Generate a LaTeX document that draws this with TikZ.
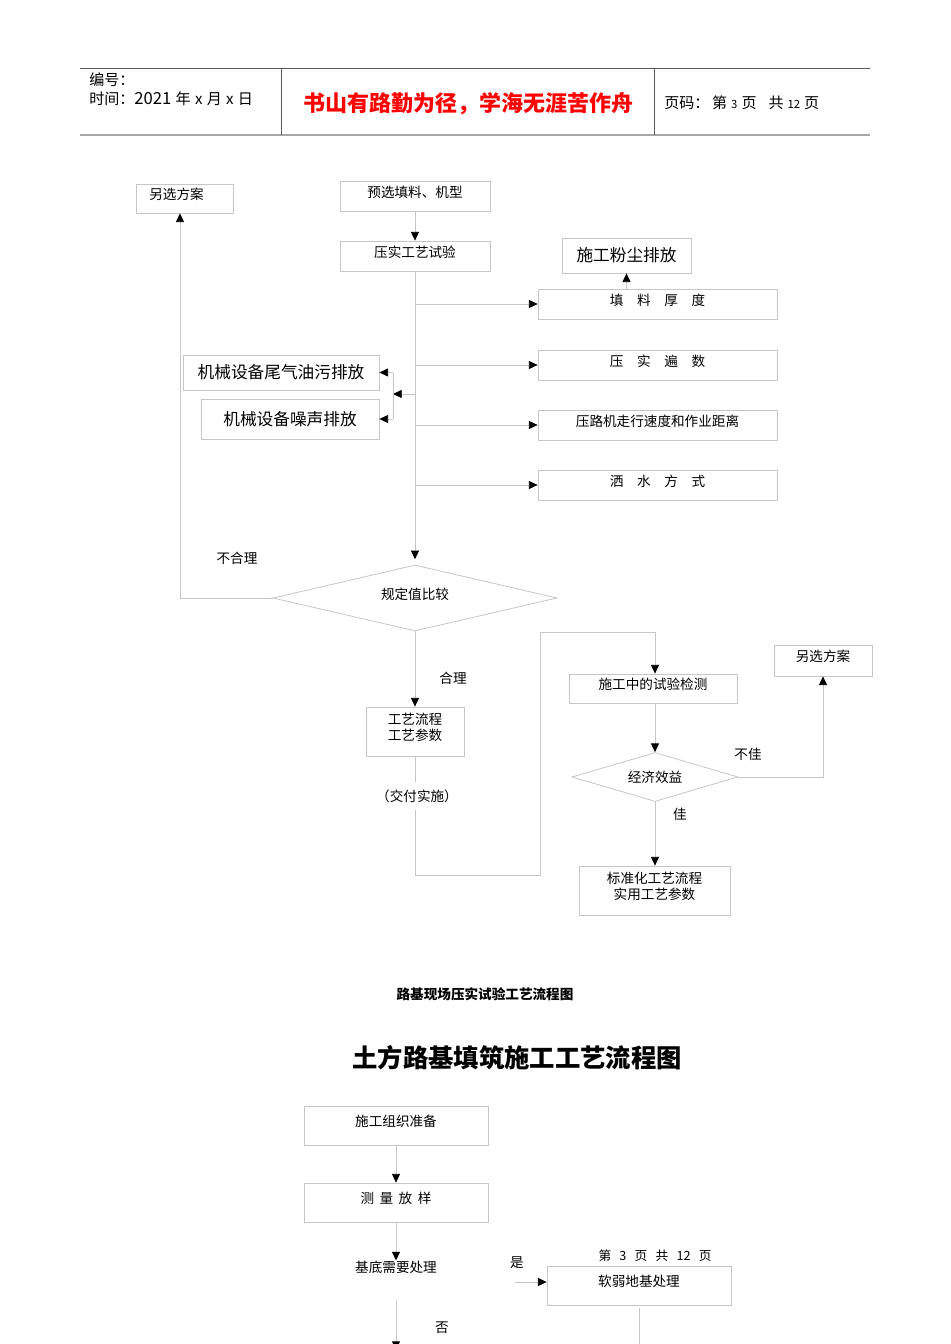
\documentclass[tikz,border=0pt]{standalone}
\usepackage{fontspec}
\newfontfamily\cjk{Noto Sans CJK SC}
\usepackage{tikz}
\usetikzlibrary{arrows.meta, positioning, shapes.geometric}

\begin{document}
\begin{tikzpicture}[
  x=0.75pt, y=-0.75pt,
  font=\cjk\fontsize{10.2}{12.5}\selectfont,
  frame/.style 2 args={draw=gray!45, line width=0.6pt, minimum width=#1*0.75pt, minimum height=#2*0.75pt, inner sep=0pt, align=center},
  lift/.style={execute at end node={\rule[-7pt]{0pt}{0pt}}},
  box/.style 2 args={frame={#1}{#2}, lift},
  bigbox/.style 2 args={frame={#1}{#2}, font=\cjk\fontsize{12.5}{15}\selectfont},
  dia/.style 2 args={draw=gray!45, line width=0.6pt, diamond, aspect=4, inner sep=0pt, minimum width=#1*0.75pt, minimum height=#2*0.75pt},
  ln/.style={draw=gray!45, line width=0.6pt},
  arr/.style={ln, -{Triangle[width=6pt, length=6.5pt, color=black]}},
  head/.style={inner sep=0pt, anchor=west, font=\cjk\fontsize{11.3}{13}\selectfont},
  lbl/.style={inner sep=0pt}
]
  \useasboundingbox (0,0) rectangle (950,1344);

  % header
  \draw[gray!70!black, line width=0.6pt] (80,68) -- (870,68);
  \draw[gray!70, line width=1.5pt] (80,135) -- (870,135);
  \draw[gray!70!black, line width=0.6pt] (281,68) -- (281,135) (654,68) -- (654,135);
  \node[head] (num) at (89,80) {编号：};
  \node[head] (date) at (89,99) {时间：{\fontsize{12.5}{13}\selectfont 2021}\hspace{3.2pt}年\hspace{3.2pt}x\hspace{3.2pt}月\hspace{3.2pt}x\hspace{3.2pt}日};
  \node[lbl, text=red, font=\cjk\bfseries\fontsize{16.5}{20}\selectfont] (motto) at (468,104) {书山有路勤为径，学海无涯苦作舟};
  \node[head] (page) at (664,103) {页码：\hspace{2pt}第\hspace{3pt}{\fontsize{8.5}{9}\selectfont 3}\hspace{3pt}页\hspace{9pt}共\hspace{3pt}{\fontsize{8.5}{9}\selectfont 12}\hspace{3pt}页};

  % compaction test
  \node[box={97}{29}] (alt1) at (184.5,198.5) {另选方案\hspace{12pt}};
  \node[box={150}{30}] (pre) at (415,196) {预选填料、机型};
  \node[box={150}{30}] (trial) at (415,256) {压实工艺试验};
  \node[bigbox={129}{35}] (dust) at (626.5,255.5) {施工粉尘排放};
  \node[box={239}{30}] (thick) at (657.5,304) {填　料　厚　度};
  \node[box={239}{30}] (passes) at (657.5,365) {压　实　遍　数};
  \node[box={239}{30}] (speed) at (657.5,425) {压路机走行速度和作业距离};
  \node[box={239}{30}] (water) at (657.5,485) {洒　水　方　式};
  \node[bigbox={196}{35}] (exh) at (281,372.5) {机械设备尾气油污排放};
  \node[bigbox={178}{40}] (noise) at (290,419) {机械设备噪声排放};
  \node[dia={284}{66}, lift] (cmp) at (415,598) {规定值比较};
  \node[box={98}{49}] (proc) at (415,731.5) {工艺流程\\工艺参数};
  \node[box={168}{29}] (test) at (653,688.5) {施工中的试验检测};
  \node[dia={166}{49}] (eco) at (655,777) {经济效益};
  \node[box={98}{31}] (alt2) at (823,660.5) {另选方案};
  \node[box={151}{49}] (std) at (654.5,890.5) {标准化工艺流程\\实用工艺参数};
  \coordinate (br) at (393,394);
  \coordinate (c1) at (540,875);
  \coordinate (c2) at (540,632);

  \draw[arr] (pre) -- (trial);
  \draw[arr] (trial.south) -- ([yshift=4pt]cmp.north);
  \foreach \b in {thick,passes,speed,water} \draw[arr] (trial.south |- \b.west) -- (\b.west);
  \draw[arr] (dust.south |- thick.north) -- (dust.south);
  \draw[arr] (trial.south |- br) -- (br);
  \draw[ln] (br |- exh.east) -- (br |- noise.east);
  \foreach \b in {exh,noise} \draw[arr] (br |- \b.east) -- (\b.east);
  \draw[arr] (cmp.west) -| ([xshift=-3.4pt]alt1.south);
  \draw[arr] (cmp.south) -- (proc.north);
  \draw[arr] (proc.south) |- (c1) -- (c2) -| (eco.north |- test.north);
  \draw[arr] (eco.north |- test.south) -- (eco.north);
  \draw[arr] (eco.east) -| (alt2.south);
  \draw[arr] (eco.south) -- (eco.south |- std.north);

  \node[lbl] (bad) at (237,558) {不合理};
  \node[lbl] (good) at (453,678) {合理};
  \node[lbl, fill=white, inner ysep=6pt] (deliver) at (417,796) {（交付实施）};
  \node[lbl] (poor) at (748,754) {不佳};
  \node[lbl] (fine) at (680,814) {佳};
  \node[lbl, font=\cjk\bfseries\fontsize{10.2}{12}\selectfont] (cap) at (485,994) {路基现场压实试验工艺流程图};

  % earthwork fill
  \node[lbl, font=\cjk\bfseries\fontsize{19}{22}\selectfont] (title) at (517,1058) {土方路基填筑施工工艺流程图};
  \node[box={184}{39}] (prep) at (396,1125.5) {施工组织准备};
  \node[box={184}{39}] (survey) at (396,1202.5) {测\hspace{.4em}量\hspace{.4em}放\hspace{.4em}样};
  \node[lbl] (base) at (396,1267) {基底需要处理};
  \node[box={184}{39}] (soft) at (639,1285.5) {软弱地基处理};
  \node[lbl, font=\cjk\fontsize{9.5}{11}\selectfont] (pg) at (655,1256) {第\hspace{.65em}3\hspace{.65em}页\hspace{.65em}共\hspace{.65em}12\hspace{.65em}页};
  \node[lbl] (yes) at (517,1263) {是};
  \node[lbl] (no) at (442,1328) {否};
  \coordinate (b1) at (396,1300);
  \coordinate (b2) at (396,1350);
  \coordinate (y1) at (515,1282);
  \coordinate (s1) at (639,1350);

  \draw[arr] (prep) -- (survey);
  \draw[arr] (survey.south) -- (base.north);
  \draw[arr] (b1) -- (b2);
  \draw[arr] (y1) -- (soft.west |- y1);
  \draw[ln] ([yshift=-2pt]soft.south) -- (s1);
\end{tikzpicture}
\end{document}
